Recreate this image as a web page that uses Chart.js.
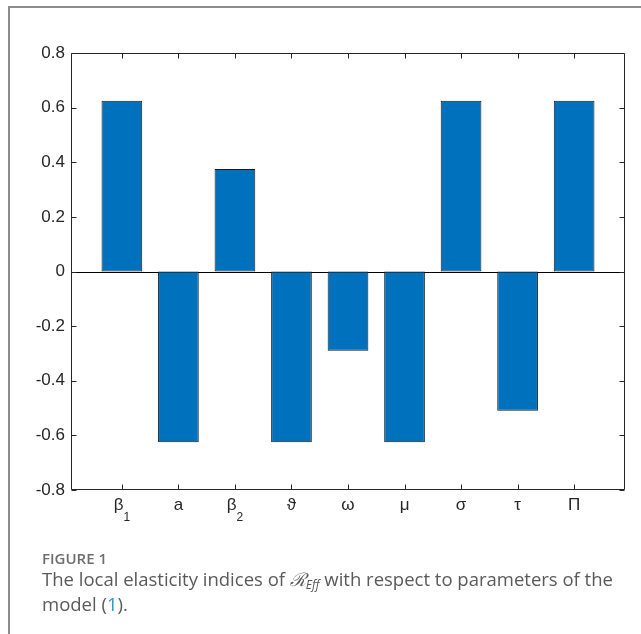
<!DOCTYPE html>
<html>
<head>
<meta charset="utf-8">
<script src="https://cdn.jsdelivr.net/npm/chart.js@4.4.1/dist/chart.umd.min.js"></script>
<style>
  html, body { margin: 0; padding: 0; background: #fff; }
  body { width: 641px; height: 634px; position: relative; overflow: hidden; }
  #frame { position: absolute; left: 8px; top: 6px; width: 640px; height: 640px;
           border-left: 2px solid #8c8c8c; border-top: 2px solid #8c8c8c; }
  #plot { position: absolute; left: 0; top: 0; width: 641px; height: 634px; }
  .fig { position: absolute; left: 42px; top: 548px; font: 600 15px "Open Sans", sans-serif;
         color: #6e6e6e; }
  .cap { position: absolute; left: 42px; top: 567px; width: 595px;
         font: 18.5px/24px "Open Sans", sans-serif; color: #5a5a5a; }
  .cap .R { font-family: "DejaVu Serif", serif; font-style: italic; }
  .cap sub { font-size: 12px; font-style: italic; vertical-align: -3px; line-height: 0; }
  .cap .ref { color: #1f9fc4; }
</style>
</head>
<body>
<div id="frame"></div>
<div id="plot"><canvas id="c" width="641" height="634"></canvas></div>
<div class="fig">FIGURE 1</div>
<div class="cap">The local elasticity indices of <span class="R">ℛ</span><sub>Eff</sub> with respect to parameters of the model (<span class="ref">1</span>).</div>

<script>
// Parameter symbols (base glyph + subscript) and their elasticity indices
const paramSymbols = ['β', 'a', 'β', 'ϑ', 'ω', 'μ', 'σ', 'τ', 'Π'];
const paramSubscripts = ['1', '', '2', '', '', '', '', '', ''];
const elasticity = [0.625, -0.625, 0.375, -0.625, -0.29, -0.625, 0.625, -0.51, 0.625];
const yTickValues = [-0.8, -0.6, -0.4, -0.2, 0, 0.2, 0.4, 0.6, 0.8];
const yTickLabels = ['-0.8', '-0.6', '-0.4', '-0.2', '0', '0.2', '0.4', '0.6', '0.8'];

const AXIS_COLOR = '#262626';
const LABEL_FONT = '"Liberation Sans", Arial, sans-serif';

// Baseline at zero, drawn beneath the bars
const baselinePlugin = {
  id: 'baseline',
  beforeDatasetsDraw(chart) {
    const { ctx, chartArea, scales } = chart;
    const y = Math.round(scales.y.getPixelForValue(0)) + 0.5;
    ctx.save();
    ctx.strokeStyle = '#000';
    ctx.lineWidth = 1;
    ctx.beginPath();
    ctx.moveTo(chartArea.left, y);
    ctx.lineTo(chartArea.right, y);
    ctx.stroke();
    ctx.restore();
  }
};

// Boxed axes with inward ticks on all four sides, plus subscripted category labels
const boxAxesPlugin = {
  id: 'boxAxes',
  afterDraw(chart) {
    const { ctx, chartArea, scales } = chart;
    const L = Math.round(chartArea.left) + 0.5;
    const R = Math.round(chartArea.right) - 0.5;
    const T = Math.round(chartArea.top) + 0.5;
    const B = Math.round(chartArea.bottom) - 0.5;
    const tick = 5;
    ctx.save();
    ctx.strokeStyle = AXIS_COLOR;
    ctx.lineWidth = 1;
    ctx.beginPath();
    ctx.rect(L, T, R - L, B - T);
    scales.y.ticks.forEach(t => {
      const y = Math.round(scales.y.getPixelForValue(t.value)) + 0.5;
      ctx.moveTo(L, y); ctx.lineTo(L + tick, y);
      ctx.moveTo(R, y); ctx.lineTo(R - tick, y);
    });
    paramSymbols.forEach((_, i) => {
      const x = Math.round(scales.x.getPixelForValue(i + 1)) + 0.5;
      ctx.moveTo(x, B); ctx.lineTo(x, B - tick);
      ctx.moveTo(x, T); ctx.lineTo(x, T + tick);
    });
    ctx.stroke();

    // category labels
    ctx.fillStyle = AXIS_COLOR;
    ctx.textBaseline = 'alphabetic';
    ctx.textAlign = 'left';
    const baseY = B + 20;
    paramSymbols.forEach((sym, i) => {
      const cx = scales.x.getPixelForValue(i + 1);
      const sub = paramSubscripts[i];
      ctx.font = '17px ' + LABEL_FONT;
      const w1 = ctx.measureText(sym).width;
      ctx.font = '12px ' + LABEL_FONT;
      const w2 = sub ? ctx.measureText(sub).width : 0;
      const x0 = cx - (w1 + w2) / 2;
      ctx.font = '17px ' + LABEL_FONT;
      ctx.fillText(sym, x0, baseY);
      if (sub) {
        ctx.font = '12px ' + LABEL_FONT;
        ctx.fillText(sub, x0 + w1, baseY + 11);
      }
    });
    ctx.restore();
  }
};

new Chart(document.getElementById('c'), {
  type: 'bar',
  data: {
    datasets: [{
      data: elasticity.map((v, i) => ({ x: i + 1, y: v })),
      backgroundColor: '#0072BD',
      borderColor: '#1a1a1a',
      borderWidth: 1,
      borderSkipped: false,
      categoryPercentage: 1,
      barPercentage: 0.8
    }]
  },
  options: {
    responsive: false,
    animation: false,
    devicePixelRatio: 1,
    layout: { padding: { left: 21, top: 53, right: 16, bottom: 144 } },
    plugins: { legend: { display: false }, tooltip: { enabled: false } },
    scales: {
      x: {
        type: 'linear',
        offset: false,
        min: 0.1,
        max: 9.9,
        grid: { display: false, drawTicks: false },
        border: { display: false },
        ticks: { display: false },
        afterFit(s) { s.height = 0; }
      },
      y: {
        min: -0.8,
        max: 0.8,
        grid: { display: false, drawTicks: false },
        border: { display: false },
        afterBuildTicks(s) { s.ticks = yTickValues.map(v => ({ value: v })); },
        ticks: {
          padding: 6,
          color: AXIS_COLOR,
          font: { family: LABEL_FONT, size: 17 },
          callback: (v, idx) => yTickLabels[idx]
        },
        afterFit(s) { s.width = 50; }
      }
    }
  },
  plugins: [baselinePlugin, boxAxesPlugin]
});
</script>
</body>
</html>
